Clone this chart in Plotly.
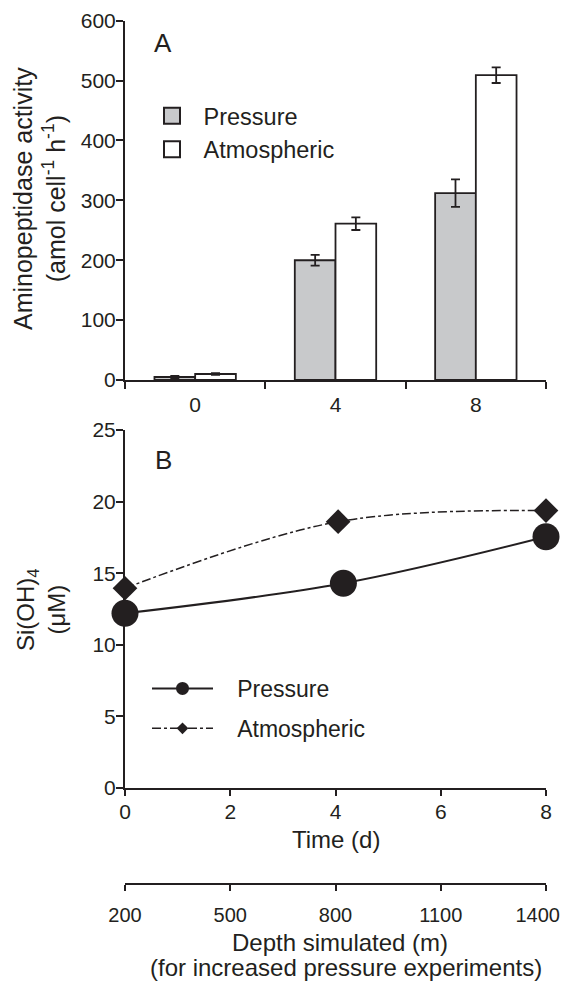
import plotly.graph_objects as go

# ---------------- data ----------------
days_cat = ["0", "4", "8"]
act_pressure = [5, 200, 312]
act_pressure_err = [2, 9, 23]
act_atmos = [10, 261, 509]
act_atmos_err = [1.5, 10.5, 13]

si_time_pressure = [0, 4.15, 8]
si_pressure = [12.2, 14.3, 17.55]
si_time_atmos = [0, 4.05, 8]
si_atmos = [13.95, 18.6, 19.37]

time_ticks = [0, 2, 4, 6, 8]
depth_ticks = [200, 500, 800, 1100, 1400]
depth_labels = ["200", "500", "800", "1100", "1400"]

INK = "#231f20"
GRAY = "#c8c9cb"
FONT = "Liberation Sans, Arial, sans-serif"
NB = "\u00a0"

W, H = 562, 982
ML, MR = 125, 16
PW = W - ML - MR


def px(x):
    return (x - ML) / PW


def py(y):
    return 1 - y / H


fig = go.Figure()

# ---- panel A bars ----
fig.add_trace(go.Bar(
    x=days_cat, y=act_pressure, name="Pressure", showlegend=False,
    marker=dict(color=GRAY, line=dict(color=INK, width=1.8)),
    error_y=dict(type="data", array=act_pressure_err, color=INK, thickness=1.8, width=4.5),
    xaxis="x", yaxis="y"))
fig.add_trace(go.Bar(
    x=days_cat, y=act_atmos, name="Atmospheric", showlegend=False,
    marker=dict(color="white", line=dict(color=INK, width=1.8)),
    error_y=dict(type="data", array=act_atmos_err, color=INK, thickness=1.8, width=4.5),
    xaxis="x", yaxis="y"))

# legend entries for panel A
fig.add_trace(go.Scatter(
    x=[None], y=[None], mode="markers", name=NB + "Pressure", legend="legend",
    marker=dict(symbol="square", size=18, color=GRAY, line=dict(color=INK, width=2)),
    xaxis="x", yaxis="y"))
fig.add_trace(go.Scatter(
    x=[None], y=[None], mode="markers", name=NB + "Atmospheric", legend="legend",
    marker=dict(symbol="square", size=18, color="white", line=dict(color=INK, width=2)),
    xaxis="x", yaxis="y"))

# ---- panel B lines ----
fig.add_trace(go.Scatter(
    x=si_time_atmos, y=si_atmos, mode="lines+markers", name="Atmospheric",
    showlegend=False, cliponaxis=False,
    line=dict(color=INK, width=1.5, dash="dashdot", shape="spline"),
    marker=dict(symbol="diamond", size=19, color=INK),
    xaxis="x2", yaxis="y2"))
fig.add_trace(go.Scatter(
    x=si_time_pressure, y=si_pressure, mode="lines+markers", name="Pressure",
    showlegend=False, cliponaxis=False,
    line=dict(color=INK, width=2, shape="spline"),
    marker=dict(symbol="circle", size=27, color=INK),
    xaxis="x2", yaxis="y2"))

# legend entries for panel B
fig.add_trace(go.Scatter(
    x=[None], y=[None], mode="lines+markers", name=NB * 3 + "Pressure",
    legend="legend2", legendgroup="p",
    line=dict(color=INK, width=2),
    marker=dict(symbol="circle", size=13, color=INK),
    xaxis="x2", yaxis="y2"))
fig.add_trace(go.Scatter(
    x=[None], y=[None], mode="lines+markers", name=NB * 3 + "Atmospheric",
    legend="legend2", legendgroup="a",
    line=dict(color=INK, width=1.5, dash="dashdot"),
    marker=dict(symbol="diamond", size=9, color=INK),
    xaxis="x2", yaxis="y2"))

# depth axis carrier (no visible marks)
fig.add_trace(go.Scatter(
    x=depth_ticks, y=[None] * len(depth_ticks), mode="markers", showlegend=False,
    hoverinfo="skip", xaxis="x3", yaxis="y2"))

axis_common = dict(showgrid=False, zeroline=False, showline=True, linecolor=INK,
                   linewidth=2, ticks="outside", tickcolor=INK, tickwidth=1.8,
                   automargin=False, ticklabeloverflow="allow",
                   tickfont=dict(family=FONT, size=21, color=INK))


def ann(text, x, y, size=24, angle=0):
    return dict(text=text, x=px(x), y=py(y), xref="paper", yref="paper",
                xanchor="center", yanchor="middle", textangle=angle,
                showarrow=False, font=dict(size=size, family=FONT, color=INK))


# last depth label nudged inward so its digits stay inside the page
depth_text = depth_labels[:-1] + [depth_labels[-1] + NB * 3]

fig.update_layout(
    width=W, height=H,
    margin=dict(l=ML, r=MR, t=0, b=0, autoexpand=False),
    paper_bgcolor="white", plot_bgcolor="white",
    font=dict(family=FONT, color=INK, size=21),
    barmode="group", bargap=0.42, bargroupgap=0,
    xaxis=dict(axis_common, domain=[0, 1], anchor="y", type="category",
               categoryorder="array", categoryarray=days_cat,
               range=[-0.5, 2.5], tickson="boundaries", ticklen=7,
               ticklabelstandoff=5),
    yaxis=dict(axis_common, domain=[py(380), py(20.7)], anchor="x",
               range=[0, 600], dtick=100, ticklen=7, ticklabelstandoff=-4),
    xaxis2=dict(axis_common, domain=[0, 1], anchor="y2", range=[0, 8],
                tickvals=time_ticks, ticklen=6, ticklabelstandoff=-2),
    yaxis2=dict(axis_common, domain=[py(788), py(430)], anchor="x2",
                range=[0, 25], dtick=5, ticklen=7, ticklabelstandoff=-4),
    xaxis3=dict(axis_common, overlaying="x2", anchor="free", position=py(884),
                side="bottom", range=[200, 1400], tickvals=depth_ticks,
                ticktext=depth_text, ticklen=6, ticklabelstandoff=7,
                tickfont=dict(family=FONT, size=20, color=INK)),
    legend=dict(x=px(147), y=py(94), xanchor="left", yanchor="top",
                bgcolor="rgba(0,0,0,0)", itemwidth=40,
                font=dict(family=FONT, size=23.5, color=INK), tracegroupgap=0),
    legend2=dict(x=px(147), y=py(667), xanchor="left", yanchor="top",
                 bgcolor="rgba(0,0,0,0)", itemwidth=61,
                 font=dict(family=FONT, size=23, color=INK), tracegroupgap=7),
    annotations=[
        ann("A", 163, 43, 26),
        ann("B", 163, 460, 26),
        ann("Aminopeptidase activity<br>(amol cell<sup>-1</sup> h<sup>-1</sup>)",
            40, 199, 25, -90),
        ann("Si(OH)<sub>4</sub><br>(μM)", 41, 610, 24, -90),
        ann("Time (d)", 336, 839, 24),
        ann("Depth simulated (m)", 340, 942, 24),
        ann("(for increased pressure experiments)", 346, 967, 24),
    ],
)

fig.write_html("out.html", config={"displayModeBar": False},
               post_script="document.body.style.margin='0';document.body.style.overflow='hidden';")
